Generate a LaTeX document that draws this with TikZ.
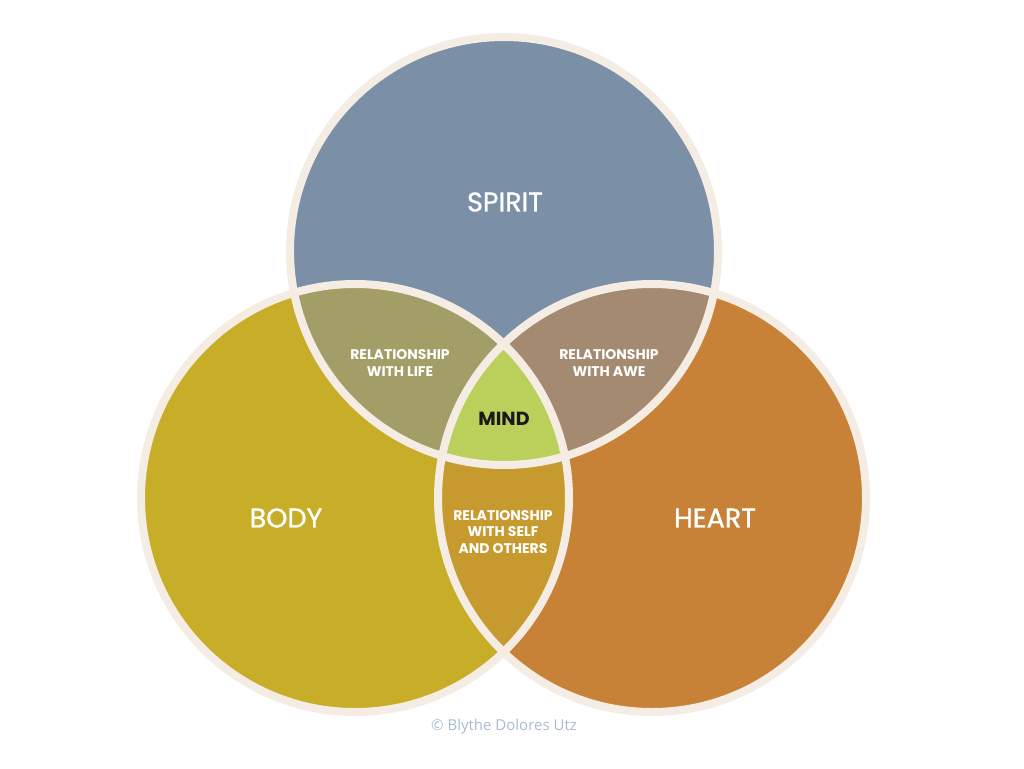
\documentclass[tikz,border=0pt]{standalone}
\usepackage{fontspec}
\newfontfamily\pop{Poppins}
\newfontfamily\popm[FakeBold=1.2]{Poppins}
\newfontfamily\osans{Open Sans}
\definecolor{spiritc}{HTML}{7B90A7}
\definecolor{bodyc}{HTML}{C7AD28}
\definecolor{heartc}{HTML}{C78237}
\definecolor{lifec}{HTML}{A39E67}
\definecolor{awec}{HTML}{A38A70}
\definecolor{mindc}{HTML}{BBD05A}
\definecolor{selfc}{HTML}{C79A30}
\definecolor{rimc}{HTML}{F5ECE4}
\definecolor{copyc}{HTML}{A8BBD3}
\tikzset{
  rim/.style={draw=rimc, line width=8pt},
  biglabel/.style={text=white, font=\popm\fontsize{27}{29}\selectfont, inner sep=0pt},
  smalllabel/.style={text=white, font=\pop\bfseries\fontsize{14}{16.5}\selectfont, align=center, inner sep=0pt},
}
\begin{document}
\begin{tikzpicture}[x=1pt,y=-1pt]
\useasboundingbox (0,0) rectangle (1024,768);
\coordinate (cs) at (504,251);
\coordinate (cb) at (355,498);
\coordinate (ch) at (652,498);
\def\R{214}
% base fills
\fill[spiritc] (cs) circle (\R);
\fill[bodyc] (cb) circle (\R);
\fill[heartc] (ch) circle (\R);
% pairwise intersections
\begin{scope}
  \clip (cs) circle (\R);
  \fill[lifec] (cb) circle (\R);
  \fill[awec] (ch) circle (\R);
\end{scope}
\begin{scope}
  \clip (cb) circle (\R);
  \fill[selfc] (ch) circle (\R);
\end{scope}
\begin{scope}
  \clip (cs) circle (\R);
  \clip (cb) circle (\R);
  \fill[mindc] (ch) circle (\R);
\end{scope}
% rims
\draw[rim] (cs) circle (\R);
\draw[rim] (cb) circle (\R);
\draw[rim] (ch) circle (\R);
% labels
\node[biglabel] (spirit) at (505,202) {SPIRIT};
\node[biglabel] (body) at (286,518) {BODY};
\node[biglabel] (heart) at (715,518) {HEART};
\node[smalllabel] (life) at (400,363) {RELATIONSHIP\\WITH LIFE};
\node[smalllabel] (awe) at (609,363) {RELATIONSHIP\\WITH AWE};
\node[smalllabel] (self) at (503,532) {RELATIONSHIP\\WITH SELF\\AND OTHERS};
\node[text=black!90, font=\pop\bfseries\fontsize{19}{21}\selectfont, inner sep=0pt] (mind) at (504,419) {MIND};
\node[text=copyc, font=\osans\fontsize{15}{17}\selectfont, inner sep=0pt] (copy) at (504,727) {© Blythe Dolores Utz};
\end{tikzpicture}
\end{document}
